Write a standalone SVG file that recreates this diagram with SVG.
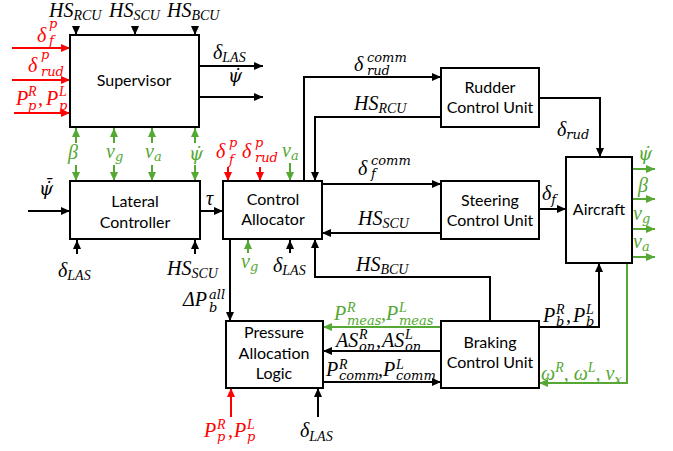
<svg xmlns="http://www.w3.org/2000/svg" width="673" height="451" viewBox="0 0 673 451">
<style>
.box{fill:#fff;stroke:#000;stroke-width:2}
.bt{font-family:Lato,"Liberation Sans",sans-serif;font-size:16px;text-anchor:middle;fill:#000}
.m{font-family:"Liberation Serif",serif;font-style:italic;font-size:20px;fill:#000}
.s{font-size:14px}
.l{font-family:"DejaVu Serif",serif;font-size:13px}
.psi{font-family:"DejaVu Serif",serif;font-style:italic;font-size:18px}
.r{fill:#f00}
.g{fill:#55a833}
.ln{fill:none;stroke:#000;stroke-width:2}
.lr{fill:none;stroke:#f00;stroke-width:2}
.lg{fill:none;stroke:#55a833;stroke-width:2}
</style>
<defs>
<marker id="ak" markerUnits="userSpaceOnUse" markerWidth="9" markerHeight="8" refX="9" refY="4" orient="auto"><path d="M0,0 L9,4 L0,8 z" fill="#000"/></marker>
<marker id="ar" markerUnits="userSpaceOnUse" markerWidth="9" markerHeight="8" refX="9" refY="4" orient="auto"><path d="M0,0 L9,4 L0,8 z" fill="#f00"/></marker>
<marker id="ag" markerUnits="userSpaceOnUse" markerWidth="9" markerHeight="8" refX="9" refY="4" orient="auto"><path d="M0,0 L9,4 L0,8 z" fill="#55a833"/></marker>
</defs>
<rect width="673" height="451" fill="#fff"/>

<g id="connectors">
<line class="ln" x1="76" y1="27" x2="76" y2="35" marker-end="url(#ak)"/>
<line class="ln" x1="135" y1="27" x2="135" y2="35" marker-end="url(#ak)"/>
<line class="ln" x1="195" y1="27" x2="195" y2="35" marker-end="url(#ak)"/>
<line class="lr" x1="12" y1="48" x2="70" y2="48" marker-end="url(#ar)"/>
<line class="lr" x1="12" y1="80" x2="70" y2="80" marker-end="url(#ar)"/>
<line class="lr" x1="14" y1="113" x2="70" y2="113" marker-end="url(#ar)"/>
<line class="ln" x1="199" y1="66" x2="263" y2="66" marker-end="url(#ak)"/>
<line class="ln" x1="199" y1="97" x2="263" y2="97" marker-end="url(#ak)"/>
<line class="lg" x1="76" y1="143" x2="76" y2="128" marker-end="url(#ag)"/>
<line class="lg" x1="114" y1="143" x2="114" y2="128" marker-end="url(#ag)"/>
<line class="lg" x1="152" y1="143" x2="152" y2="128" marker-end="url(#ag)"/>
<line class="lg" x1="195" y1="143" x2="195" y2="128" marker-end="url(#ag)"/>
<line class="lg" x1="76" y1="165" x2="76" y2="181" marker-end="url(#ag)"/>
<line class="lg" x1="114" y1="165" x2="114" y2="181" marker-end="url(#ag)"/>
<line class="lg" x1="152" y1="165" x2="152" y2="181" marker-end="url(#ag)"/>
<line class="lg" x1="195" y1="165" x2="195" y2="181" marker-end="url(#ag)"/>
<line class="ln" x1="28" y1="211" x2="70" y2="211" marker-end="url(#ak)"/>
<line class="ln" x1="200" y1="211" x2="223" y2="211" marker-end="url(#ak)"/>
<line class="ln" x1="77" y1="254" x2="77" y2="240" marker-end="url(#ak)"/>
<line class="ln" x1="195" y1="254" x2="195" y2="240" marker-end="url(#ak)"/>
<line class="lr" x1="228" y1="167" x2="228" y2="181" marker-end="url(#ar)"/>
<line class="lr" x1="260" y1="167" x2="260" y2="181" marker-end="url(#ar)"/>
<line class="lg" x1="290" y1="163" x2="290" y2="181" marker-end="url(#ag)"/>
<line class="lg" x1="248" y1="253" x2="248" y2="240" marker-end="url(#ag)"/>
<line class="ln" x1="290" y1="253" x2="290" y2="240" marker-end="url(#ak)"/>
<polyline class="ln" points="304,181 304,77 441,77" marker-end="url(#ak)"/>
<polyline class="ln" points="441,117 315,117 315,181" marker-end="url(#ak)"/>
<line class="ln" x1="322" y1="184" x2="441" y2="184" marker-end="url(#ak)"/>
<line class="ln" x1="441" y1="233" x2="322" y2="233" marker-end="url(#ak)"/>
<polyline class="ln" points="490,321 490,277 315,277 315,239" marker-end="url(#ak)"/>
<line class="ln" x1="230" y1="239" x2="230" y2="321" marker-end="url(#ak)"/>
<polyline class="ln" points="539,98 600,98 600,157" marker-end="url(#ak)"/>
<line class="ln" x1="539" y1="209" x2="566" y2="209" marker-end="url(#ak)"/>
<polyline class="ln" points="539,327 599,327 599,263" marker-end="url(#ak)"/>
<polyline class="lg" points="627,263 627,383 539,383" marker-end="url(#ag)"/>
<line class="lg" x1="632" y1="169" x2="655" y2="169" marker-end="url(#ag)"/>
<line class="lg" x1="632" y1="199" x2="655" y2="199" marker-end="url(#ag)"/>
<line class="lg" x1="632" y1="229" x2="655" y2="229" marker-end="url(#ag)"/>
<line class="lg" x1="632" y1="257" x2="655" y2="257" marker-end="url(#ag)"/>
<line class="lg" x1="441" y1="327" x2="323" y2="327" marker-end="url(#ag)"/>
<line class="ln" x1="441" y1="351" x2="323" y2="351" marker-end="url(#ak)"/>
<line class="ln" x1="323" y1="382" x2="441" y2="382" marker-end="url(#ak)"/>
<line class="lr" x1="231" y1="417" x2="231" y2="388" marker-end="url(#ar)"/>
<line class="ln" x1="318" y1="417" x2="318" y2="388" marker-end="url(#ak)"/>
</g>

<g id="supervisor"><rect class="box" x="70" y="35" width="129" height="92"/><text class="bt" x="134" y="86">Supervisor</text></g>
<g id="lateral-controller"><rect class="box" x="70" y="181" width="130" height="58"/><text class="bt" x="135" y="207">Lateral</text><text class="bt" x="135" y="228">Controller</text></g>
<g id="control-allocator"><rect class="box" x="223" y="181" width="99" height="58"/><text class="bt" x="273" y="205">Control</text><text class="bt" x="273" y="225">Allocator</text></g>
<g id="rudder-control-unit"><rect class="box" x="441" y="68" width="98" height="59"/><text class="bt" x="490" y="93">Rudder</text><text class="bt" x="490" y="113">Control Unit</text></g>
<g id="steering-control-unit"><rect class="box" x="441" y="181" width="98" height="58"/><text class="bt" x="490" y="206">Steering</text><text class="bt" x="490" y="226">Control Unit</text></g>
<g id="aircraft"><rect class="box" x="566" y="157" width="66" height="106"/><text class="bt" x="599" y="215">Aircraft</text></g>
<g id="pressure-allocation-logic"><rect class="box" x="226" y="321" width="97" height="67"/><text class="bt" x="274" y="338">Pressure</text><text class="bt" x="274" y="359">Allocation</text><text class="bt" x="274" y="379">Logic</text></g>
<g id="braking-control-unit"><rect class="box" x="441" y="321" width="98" height="67"/><text class="bt" x="490" y="348">Braking</text><text class="bt" x="490" y="368">Control Unit</text></g>

<g id="labels">
<text class="m" x="49" y="17">HS<tspan class="s" dy="3">RCU</tspan></text>
<text class="m" x="109" y="17">HS<tspan class="s" dy="3">SCU</tspan></text>
<text class="m" x="167" y="17">HS<tspan class="s" dy="3">BCU</tspan></text>
<text class="m r" x="37" y="42">δ<tspan class="l" x="49" y="28">p</tspan><tspan class="l" x="49" y="45">f</tspan></text>
<text class="m r" x="28" y="72">δ<tspan class="l" x="41" y="59">p</tspan><tspan class="l" x="41" y="76">rud</tspan></text>
<text class="m r" x="16" y="105">P<tspan class="s" x="28" y="96">R</tspan><tspan class="l" x="28" y="110">p</tspan><tspan x="38" y="105">,</tspan><tspan x="46" y="105">P</tspan><tspan class="s" x="59" y="96">L</tspan><tspan class="l" x="59" y="110">p</tspan></text>
<text class="m" x="213" y="59">δ<tspan class="s" dy="3">LAS</tspan></text>
<text class="m psi" x="228" y="82">ψ̇̄</text>
<text class="m g" x="68" y="159">β</text>
<text class="m g" x="106" y="158">v<tspan class="l" dy="3">g</tspan></text>
<text class="m g" x="145" y="158">v<tspan class="l" dy="3">a</tspan></text>
<text class="m g psi" x="189" y="160">ψ̇</text>
<text class="m psi" x="39" y="195">ψ̇̄</text>
<text class="m" x="206" y="205">τ</text>
<text class="m" x="58" y="277">δ<tspan class="s" dy="3">LAS</tspan></text>
<text class="m" x="167" y="275">HS<tspan class="s" dy="3">SCU</tspan></text>
<text class="m r" x="216" y="158">δ<tspan class="l" x="229" y="147">p</tspan><tspan class="l" x="229" y="164">f</tspan></text>
<text class="m r" x="242" y="158">δ<tspan class="l" x="255" y="147">p</tspan><tspan class="l" x="255" y="162">rud</tspan></text>
<text class="m g" x="282" y="157">v<tspan class="l" dy="3">a</tspan></text>
<text class="m g" x="241" y="268">v<tspan class="l" dy="3">g</tspan></text>
<text class="m" x="273" y="272">δ<tspan class="s" dy="3">LAS</tspan></text>
<text class="m" x="354" y="71">δ<tspan class="l" x="367" y="62">comm</tspan><tspan class="l" x="367" y="75">rud</tspan></text>
<text class="m" x="354" y="110">HS<tspan class="s" dy="3">RCU</tspan></text>
<text class="m" x="358" y="175">δ<tspan class="l" x="371" y="165">comm</tspan><tspan class="l" x="371" y="178">f</tspan></text>
<text class="m" x="358" y="225">HS<tspan class="s" dy="3">SCU</tspan></text>
<text class="m" x="356" y="271">HS<tspan class="s" dy="3">BCU</tspan></text>
<text class="m" x="183" y="306">ΔP<tspan class="l" x="209" y="299">all</tspan><tspan class="l" x="209" y="312">b</tspan></text>
<text class="m" x="557" y="136">δ<tspan class="l" dy="3">rud</tspan></text>
<text class="m" x="542" y="200">δ<tspan class="l" dy="4">f</tspan></text>
<text class="m g psi" x="638" y="160">ψ̇</text>
<text class="m g" x="638" y="192">β</text>
<text class="m g" x="633" y="220">v<tspan class="l" dy="3">g</tspan></text>
<text class="m g" x="633" y="248">v<tspan class="l" dy="3">a</tspan></text>
<text class="m g" x="334" y="320">P<tspan class="s" x="347" y="312">R</tspan><tspan class="l" x="347" y="325">meas</tspan><tspan x="381" y="320">,</tspan><tspan x="386" y="320">P</tspan><tspan class="s" x="399" y="312">L</tspan><tspan class="l" x="399" y="325">meas</tspan></text>
<text class="m" x="336" y="347">AS<tspan class="s" x="359" y="339">R</tspan><tspan class="l" x="359" y="351">on</tspan><tspan x="376" y="347">,</tspan><tspan x="382" y="347">AS</tspan><tspan class="s" x="405" y="339">L</tspan><tspan class="l" x="405" y="351">on</tspan></text>
<text class="m" x="326" y="376">P<tspan class="s" x="339" y="369">R</tspan><tspan class="l" x="339" y="380">comm</tspan><tspan x="378" y="376">,</tspan><tspan x="383" y="376">P</tspan><tspan class="s" x="396" y="369">L</tspan><tspan class="l" x="396" y="380">comm</tspan></text>
<text class="m" x="543" y="322">P<tspan class="s" x="556" y="314">R</tspan><tspan class="l" x="556" y="326">b</tspan><tspan x="566" y="322">,</tspan><tspan x="573" y="322">P</tspan><tspan class="s" x="586" y="314">L</tspan><tspan class="l" x="586" y="326">b</tspan></text>
<text class="m g" x="541" y="380">ω<tspan class="s" dy="-8">R</tspan><tspan dy="8">, ω</tspan><tspan class="s" dy="-8">L</tspan><tspan dy="8">, v</tspan><tspan class="l" dy="4">x</tspan></text>
<text class="m r" x="204" y="437">P<tspan class="s" x="217" y="429">R</tspan><tspan class="l" x="217" y="441">p</tspan><tspan x="228" y="437">,</tspan><tspan x="234" y="437">P</tspan><tspan class="s" x="247" y="429">L</tspan><tspan class="l" x="247" y="441">p</tspan></text>
<text class="m" x="300" y="437">δ<tspan class="s" dy="4">LAS</tspan></text>
</g>
</svg>
